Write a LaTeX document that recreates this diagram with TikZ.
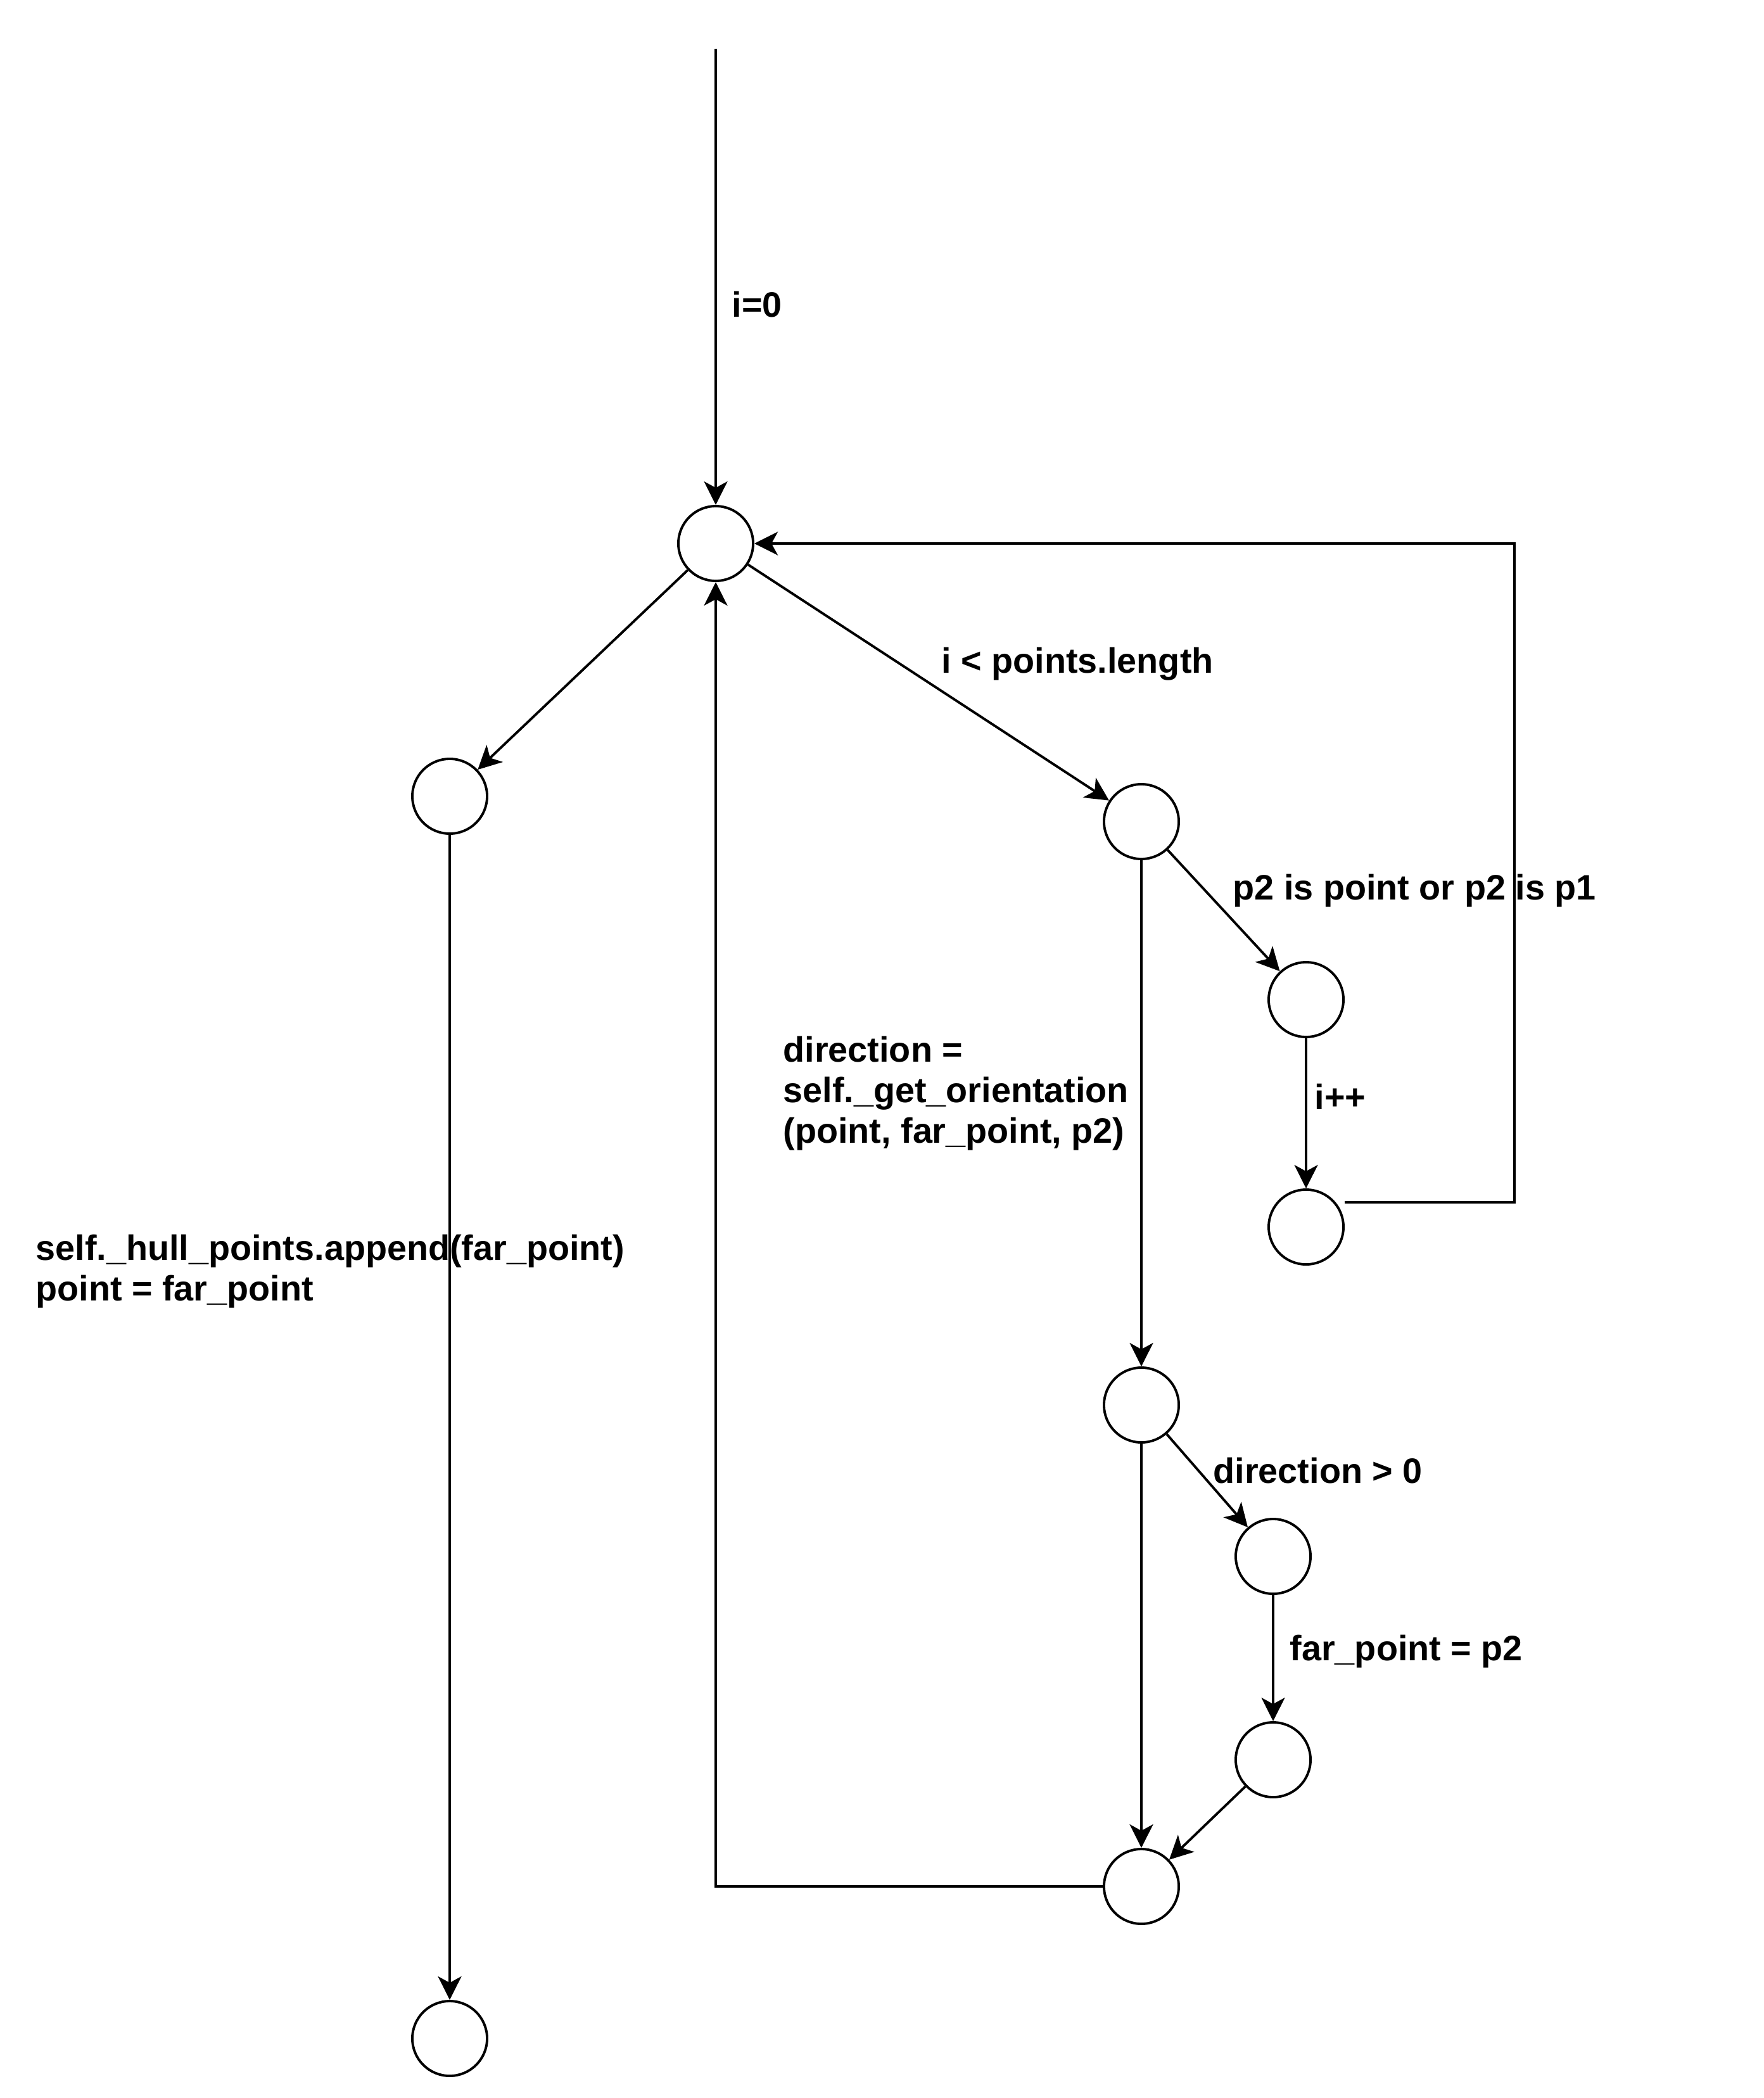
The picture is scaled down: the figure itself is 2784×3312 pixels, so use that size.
\documentclass[tikz,border=0pt]{standalone}
\usepackage{fontspec}
\setmainfont{Liberation Sans}
\usetikzlibrary{arrows.meta}
\begin{document}
\begin{tikzpicture}[x=0.01cm,y=-0.01cm,
  state/.style={circle,draw,line width=1.1pt,minimum size=1.18cm,inner sep=0pt},
  flow/.style={line width=1.1pt,-{Stealth[length=0.37cm,width=0.37cm,inset=0.1cm]}},
  lbl/.style={anchor=base west,inner sep=0pt,font=\bfseries\fontsize{15.85pt}{18.21pt}\selectfont}]
\useasboundingbox (0,0) rectangle (2784,3312);
\node[state] (A) at (1130,858) {};
\node[state] (B) at (710,1257) {};
\node[state] (C) at (1802,1297) {};
\node[state] (D) at (2062,1578) {};
\node[state] (E) at (2062,1937) {};
\node[state] (F) at (1802,2218) {};
\node[state] (G) at (2010,2457) {};
\node[state] (H) at (2010,2778) {};
\node[state] (I) at (1802,2978) {};
\node[state] (J) at (710,3218) {};
\coordinate (S) at (1130,77);

\draw[flow] (S) -- (A);
\draw[flow] (A) -- (B);
\draw[flow] (A) -- (C);
\draw[flow] (C) -- (D);
\draw[flow] (D) -- (E);
\draw[flow] ([yshift=0.39cm]E.east) -- ++(268,0) |- (A.east);
\draw[flow] (C) -- (F);
\draw[flow] (F) -- (G);
\draw[flow] (G) -- (H);
\draw[flow] (H) -- (I);
\draw[flow] (F) -- (I);
\draw[flow] (I.west) -| (A.south);
\draw[flow] (B) -- (J);

\node[lbl] (l0) at (1155,500) {i=0};
\node[lbl] (l1) at (1486,1062) {i < points.length};
\node[lbl] (l2) at (1946,1420) {p2 is point or p2 is p1};
\node[lbl] (l3) at (2075,1751) {i++};
\node[lbl] (l4) at (1236,1676) {\begin{tabular}[t]{@{}l@{}}direction =\\self.\_get\_orientation\\(point, far\_point, p2)\end{tabular}};
\node[lbl] (l5) at (56,1989) {\begin{tabular}[t]{@{}l@{}}self.\_hull\_points.append(far\_point)\\point = far\_point\end{tabular}};
\node[lbl] (l6) at (1915,2341) {direction > 0};
\node[lbl] (l7) at (2036,2621) {far\_point = p2};
\end{tikzpicture}
\end{document}
